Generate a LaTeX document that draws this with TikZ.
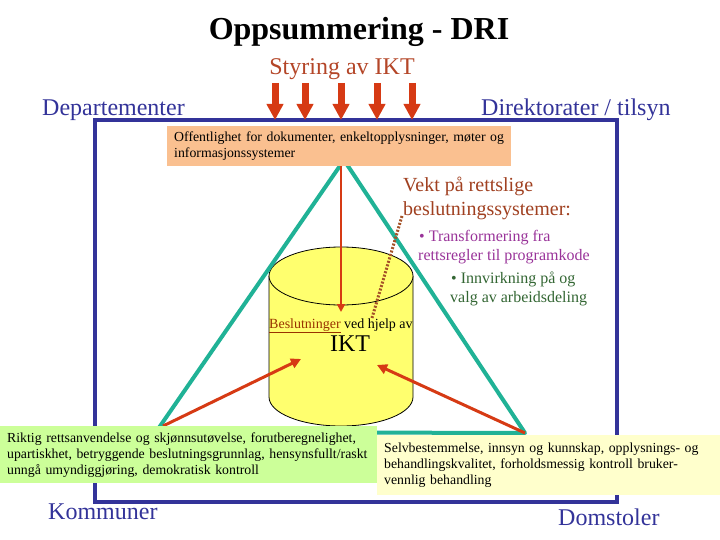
\documentclass[tikz,border=0pt]{standalone}
\usepackage{fontspec}
\setmainfont{Liberation Serif}
\usetikzlibrary{arrows.meta}
\definecolor{frame}{RGB}{51,51,153}
\definecolor{styr}{RGB}{180,70,40}
\definecolor{arr}{RGB}{214,58,20}
\definecolor{teal}{RGB}{32,178,150}
\definecolor{peach}{RGB}{250,192,144}
\definecolor{cylfill}{RGB}{255,255,110}
\definecolor{greenbox}{RGB}{204,255,153}
\definecolor{yelbox}{RGB}{255,255,204}
\definecolor{vekt}{RGB}{160,64,32}
\definecolor{purp}{RGB}{153,51,153}
\definecolor{dgreen}{RGB}{51,102,51}
\definecolor{dotc}{RGB}{165,82,40}
\definecolor{besl}{RGB}{153,51,0}
\tikzset{
  corner/.style={font=\fontsize{24}{28}\selectfont, text=frame, anchor=base west, inner sep=0pt},
  infobox/.style={font=\fontsize{13.8}{16}\selectfont, align=left, anchor=north west, inner xsep=7pt, inner ysep=0pt},
  bigarrow/.style={arr, line width=7pt, -{Triangle[length=16pt,width=16pt]}},
  midarrow/.style={arr, line width=3pt, -{Triangle[length=10pt,width=10pt]}},
  tri/.style={teal, line width=4pt, line join=round},
  txt/.style={anchor=base west, inner sep=0pt}
}
\begin{document}
\begin{tikzpicture}[x=1pt,y=-1pt]
\useasboundingbox (0,0) rectangle (720,540);
% frame
\draw[frame, line width=4pt] (95,120) rectangle (617,502);
% cylinder
\fill[cylfill] (269,276) -- (269,397) arc[start angle=180, end angle=360, x radius=72pt, y radius=29pt] -- (413,276) -- cycle;
\draw[black, line width=0.8pt] (269,276) -- (269,397) arc[start angle=180, end angle=360, x radius=72pt, y radius=29pt] -- (413,276);
\draw[black, line width=0.8pt, fill=cylfill] (341,276) ellipse[x radius=72pt, y radius=29pt];
\node[txt, font=\fontsize{14}{16}\selectfont] (besl) at (269,328) {\textcolor{besl}{\underline{Beslutninger}} ved hjelp av};
\node[anchor=base, inner sep=0pt, font=\fontsize{24}{28}\selectfont] (ikt) at (350,351) {IKT};
% triangle
\coordinate (apex) at (344,160);
\coordinate (tl) at (156,432);
\coordinate (tr) at (525,433);
\draw[tri] (apex) -- (tl) -- (tr) -- cycle;
% dotted
\coordinate (d1) at (402,216);
\coordinate (d2) at (372,318);
\draw[dotc, line width=3pt, dash pattern=on 2pt off 1.6pt] (d1) -- (d2);
% vertical red line
\coordinate (v1) at (341,166);
\coordinate (v2) at (341,312);
\draw[arr, line width=2pt, -{Triangle[length=8pt,width=8pt]}] (v1) -- (v2);
% red arrows to cylinder
\coordinate (la) at (163,426);
\coordinate (lt) at (301,359);
\coordinate (ra) at (525,433);
\coordinate (rt) at (377,365);
\draw[midarrow] (la) -- (lt);
\draw[midarrow] (ra) -- (rt);
% top arrows
\foreach \i/\x in {1/275,2/305,3/341,4/377,5/412}{
  \coordinate (a\i) at (\x,83);
  \coordinate (b\i) at (\x,120);
  \draw[bigarrow] (a\i) -- (b\i);
}
% titles
\node[anchor=base, inner sep=0pt, font=\bfseries\fontsize{32}{38}\selectfont] (title) at (359,40) {Oppsummering - DRI};
\node[anchor=base, inner sep=0pt, text=styr, font=\fontsize{24}{28}\selectfont] (styring) at (342,75) {Styring av IKT};
\node[corner] (dep) at (42,116) {Departementer};
\node[corner] (dir) at (481,116) {Direktorater / tilsyn};
\node[corner] (kom) at (48,519) {Kommuner};
\node[corner] (dom) at (558,525) {Domstoler};
% boxes
\node[infobox, fill=peach, minimum width=344pt, minimum height=40pt, text width=330pt] (pub) at (167,126)
  {Offentlighet for dokumenter, enkeltopplysninger, møter og\\informasjonssystemer};
\node[infobox, fill=yelbox, minimum width=343pt, minimum height=60pt, text width=329pt] (selv) at (377,435)
  {Selvbestemmelse, innsyn og kunnskap, opplysnings- og\\behandlingskvalitet, forholdsmessig kontroll bruker-\\vennlig behandling};
\node[infobox, fill=greenbox, minimum width=377pt, minimum height=57pt, text width=363pt] (rikt) at (0,426)
  {Riktig rettsanvendelse og skjønnsutøvelse, forutberegnelighet,\\upartiskhet, betryggende beslutningsgrunnlag, hensynsfullt/raskt\\unngå umyndiggjøring, demokratisk kontroll};
% right texts
\node[txt, text=vekt, font=\fontsize{20}{23}\selectfont] (vekt1) at (403,192) {Vekt på rettslige};
\node[txt, text=vekt, font=\fontsize{20}{23}\selectfont] (vekt2) at (403,215) {beslutningssystemer:};
\node[txt, text=purp, font=\fontsize{16}{19}\selectfont] (tr1) at (419,241) {• Transformering fra};
\node[txt, text=purp, font=\fontsize{16}{19}\selectfont] (tr2) at (418,260) {rettsregler til programkode};
\node[txt, text=dgreen, font=\fontsize{16}{19}\selectfont] (in1) at (451,283) {• Innvirkning på og};
\node[txt, text=dgreen, font=\fontsize{16}{19}\selectfont] (in2) at (450,302) {valg av arbeidsdeling};
\end{tikzpicture}
\end{document}
